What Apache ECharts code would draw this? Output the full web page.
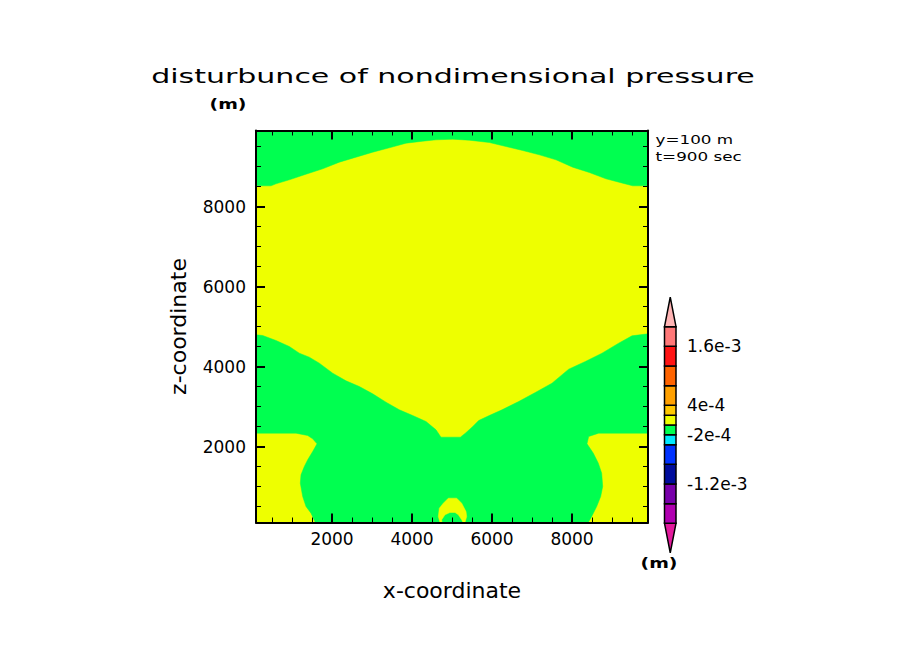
<!DOCTYPE html>
<html>
<head>
<meta charset="utf-8">
<script src="https://cdn.jsdelivr.net/npm/echarts@6/dist/echarts.min.js"></script>
<style>
html,body{margin:0;padding:0;background:#fff;}
#chart{width:904px;height:654px;}
</style>
</head>
<body>
<div id="chart"></div>
<script>
// ---- domain and ticks ----
const xRange = [100, 9900];
const zRange = [100, 9900];
const xMajorTicks = [2000, 4000, 6000, 8000];
const xMinorTicks = [500, 1000, 1500, 2500, 3000, 3500, 4500, 5000, 5500, 6500, 7000, 7500, 8500, 9000, 9500];
const zMajorTicks = [2000, 4000, 6000, 8000];
const zMinorTicks = [500, 1000, 1500, 2500, 3000, 3500, 4500, 5000, 5500, 6500, 7000, 7500, 8500, 9000, 9500];

// ---- contour boundaries (x, z in m) ----
// lower edge of the upper green band (-2e-4..0)
const topGreenEdge = [[100,8517],[475,8517],[600,8567],[933,8667],[1350,8808],[1767,8942],[2183,9108],[2600,9233],[3017,9358],[3433,9467],[3850,9583],[4267,9633],[4600,9667],[5017,9683],[5433,9658],[5933,9600],[6350,9500],[6767,9400],[7183,9292],[7600,9167],[8017,8983],[8433,8850],[8850,8692],[9267,8583],[9517,8517],[9900,8517]];
// upper edge of the central green region
const midGreenTop = [[100,4792],[267,4775],[600,4650],[933,4500],[1183,4333],[1433,4233],[1683,4083],[2017,3833],[2350,3642],[2683,3500],[3017,3317],[3350,3108],[3683,2917],[4017,2775],[4350,2625],[4600,2417],[4725,2233],[5208,2233],[5333,2333],[5500,2483],[5667,2650],[5917,2767],[6250,2917],[6667,3125],[7083,3350],[7500,3583],[7917,3933],[8333,4125],[8750,4333],[9167,4583],[9500,4767],[9900,4817]];
// right yellow lobe edge (from right wall, down to bottom)
const rightLobeEdge = [[9900,2333],[8667,2333],[8417,2250],[8375,2067],[8533,1833],[8658,1583],[8742,1333],[8767,1000],[8717,750],[8617,500],[8492,250],[8408,100]];
// left yellow lobe edge (from bottom, up to left wall)
const leftLobeEdge = [[1583,100],[1475,333],[1350,500],[1267,750],[1208,1083],[1225,1292],[1308,1500],[1392,1667],[1517,1875],[1625,2067],[1517,2192],[1392,2275],[1100,2333],[100,2333]];
// small yellow arch near the bottom centre (outer edge, then inner edge)
const archOuter = [[4700,100],[4658,250],[4683,458],[4783,583],[4908,708],[5117,708],[5242,583],[5350,375],[5367,250],[5325,100]];
const archInner = [[5275,100],[5242,167],[5158,292],[5075,350],[4950,350],[4825,292],[4742,167],[4750,100]];

// ---- colour bar ----
const cbLevels = [-2e-3, -1.6e-3, -1.2e-3, -8e-4, -4e-4, -2e-4, 0, 2e-4, 4e-4, 8e-4, 1.2e-3, 1.6e-3, 2e-3];
const cbTips = [-2.6e-3, 2.6e-3];
const cbLabelValues = [1.6e-3, 4e-4, -2e-4, -1.2e-3];
const cbLabelTexts = ['1.6e-3', '4e-4', '-2e-4', '-1.2e-3'];

// ---- styles ----
const cbColors = ['#e21a9c','#b000b0','#7800aa','#000c9c','#0032ff','#00e8ff','#00ff50','#eeff00','#ffc800','#ffa000','#ff6400','#ff1414','#ff7878','#ffb4b4'];
const GREEN = '#00ff50';
const YELLOW = '#eeff00';
const FONT = 'DejaVu Sans';

// build polygons
const bgRect = [[xRange[0],zRange[0]],[xRange[1],zRange[0]],[xRange[1],zRange[1]],[xRange[0],zRange[1]]];
const topGreenPoly = topGreenEdge.concat([[xRange[1],zRange[1]],[xRange[0],zRange[1]]]);
const midGreenPoly = midGreenTop.concat(rightLobeEdge, leftLobeEdge);
const archPoly = archOuter.concat(archInner);
const polygons = [
  {pts: bgRect, fill: YELLOW},
  {pts: topGreenPoly, fill: GREEN},
  {pts: midGreenPoly, fill: GREEN},
  {pts: archPoly, fill: YELLOW}
];

// colour bar cells: [lo, hi]
const cbCells = [];
cbCells.push([cbTips[0], cbLevels[0]]);
for (let i = 0; i < cbLevels.length - 1; i++) cbCells.push([cbLevels[i], cbLevels[i+1]]);
cbCells.push([cbLevels[cbLevels.length-1], cbTips[1]]);

const chart = echarts.init(document.getElementById('chart'), null, {renderer: 'svg'});

const tickLabelStyle = {color: '#000', fontFamily: FONT, fontSize: 17};
const lineStyle = {color: '#000', width: 2};

function xAx(pos, ticks, len, w, labels, line) {
  return {
    type: 'value', gridIndex: 0, position: pos, min: xRange[0], max: xRange[1], z: 10,
    axisLine: {show: line, lineStyle: lineStyle},
    axisTick: {show: true, inside: true, length: len, customValues: ticks, lineStyle: {color: '#000', width: w}},
    axisLabel: labels ? {show: true, customValues: ticks, margin: 8, formatter: v => String(v), ...tickLabelStyle} : {show: false},
    splitLine: {show: false}
  };
}
function yAx(pos, ticks, len, w, labels, line) {
  return {
    type: 'value', gridIndex: 0, position: pos, min: zRange[0], max: zRange[1], z: 10,
    axisLine: {show: line, lineStyle: lineStyle},
    axisTick: {show: true, inside: true, length: len, customValues: ticks, lineStyle: {color: '#000', width: w}},
    axisLabel: labels ? {show: true, customValues: ticks, margin: 10, formatter: v => String(v), ...tickLabelStyle} : {show: false},
    splitLine: {show: false}
  };
}

const xAxes = [
  Object.assign(xAx('bottom', xMajorTicks, 9, 2, true, true), {name: 'x-coordinate', nameLocation: 'middle', nameGap: 57, nameTextStyle: {color: '#000', fontFamily: FONT, fontSize: 22}}),
  xAx('bottom', xMinorTicks, 5, 1, false, false),
  xAx('top', xMajorTicks, 9, 2, false, true),
  xAx('top', xMinorTicks, 5, 1, false, false),
  {type: 'value', gridIndex: 1, min: 0, max: 1, show: false}
];
const yAxes = [
  Object.assign(yAx('left', zMajorTicks, 9, 2, true, true), {name: 'z-coordinate', nameLocation: 'middle', nameGap: 67, nameRotate: 90, nameTextStyle: {color: '#000', fontFamily: FONT, fontSize: 22}}),
  yAx('left', zMinorTicks, 5, 1, false, false),
  yAx('right', zMajorTicks, 9, 2, false, true),
  yAx('right', zMinorTicks, 5, 1, false, false),
  {
    type: 'value', gridIndex: 1, position: 'right', min: cbTips[0], max: cbTips[1],
    axisLine: {show: false}, axisTick: {show: false}, splitLine: {show: false},
    axisLabel: {
      show: true, customValues: cbLabelValues, margin: 11, ...tickLabelStyle,
      formatter: function (v) {
        let best = 0;
        for (let i = 1; i < cbLabelValues.length; i++) if (Math.abs(cbLabelValues[i]-v) < Math.abs(cbLabelValues[best]-v)) best = i;
        return cbLabelTexts[best];
      }
    }
  }
];

function wideText(x, y, text, size, sx, weight) {
  return {
    type: 'text', x: x, y: y, scaleX: sx, scaleY: 1, silent: true,
    style: {text: text, x: 0, y: 0, fill: '#000', font: (weight || 'normal') + ' ' + size + 'px "' + FONT + '"', align: 'center', verticalAlign: 'middle'}
  };
}
function leftText(x, y, text, size, sx) {
  return {
    type: 'text', x: x, y: y, scaleX: sx, scaleY: 1, silent: true,
    style: {text: text, x: 0, y: 0, fill: '#000', font: size + 'px "' + FONT + '"', align: 'left', verticalAlign: 'middle'}
  };
}

const option = {
  backgroundColor: '#ffffff',
  animation: false,
  grid: [
    {left: 256, top: 130.5, width: 392, height: 392},
    {left: 664.5, top: 297.2, width: 11.5, height: 255.6}
  ],
  xAxis: xAxes,
  yAxis: yAxes,
  graphic: [
    wideText(453, 76, 'disturbunce of nondimensional pressure', 20, 1.5),
    wideText(228, 104, '(m)', 14, 1.35, 'bold'),
    wideText(659, 563, '(m)', 14, 1.35, 'bold'),
    leftText(655.5, 139, 'y=100 m', 12, 1.4),
    leftText(655.5, 156, 't=900 sec', 12, 1.4)
  ],
  series: [
    {
      type: 'custom', xAxisIndex: 0, yAxisIndex: 0, clip: true, silent: true, z: 1,
      data: polygons.map((p, i) => [i, 0]),
      renderItem: function (params, api) {
        const p = polygons[params.dataIndex];
        return {type: 'polygon', shape: {points: p.pts.map(q => api.coord(q))}, style: {fill: p.fill, stroke: p.fill, lineWidth: 0.5}};
      }
    },
    {
      type: 'custom', xAxisIndex: 4, yAxisIndex: 4, silent: true,
      data: cbCells.map((c, i) => [i, c[0], c[1]]),
      renderItem: function (params, api) {
        const i = params.dataIndex;
        const lo = cbCells[i][0], hi = cbCells[i][1];
        const st = {fill: cbColors[i], stroke: '#000', lineWidth: 1.5};
        if (i === 0) {
          return {type: 'polygon', shape: {points: [api.coord([0, hi]), api.coord([1, hi]), api.coord([0.5, lo])]}, style: st};
        }
        if (i === cbCells.length - 1) {
          return {type: 'polygon', shape: {points: [api.coord([0, lo]), api.coord([1, lo]), api.coord([0.5, hi])]}, style: st};
        }
        const a = api.coord([0, hi]), b = api.coord([1, lo]);
        return {type: 'rect', shape: {x: a[0], y: a[1], width: b[0]-a[0], height: b[1]-a[1]}, style: st};
      }
    }
  ]
};
chart.setOption(option);
</script>
</body>
</html>
